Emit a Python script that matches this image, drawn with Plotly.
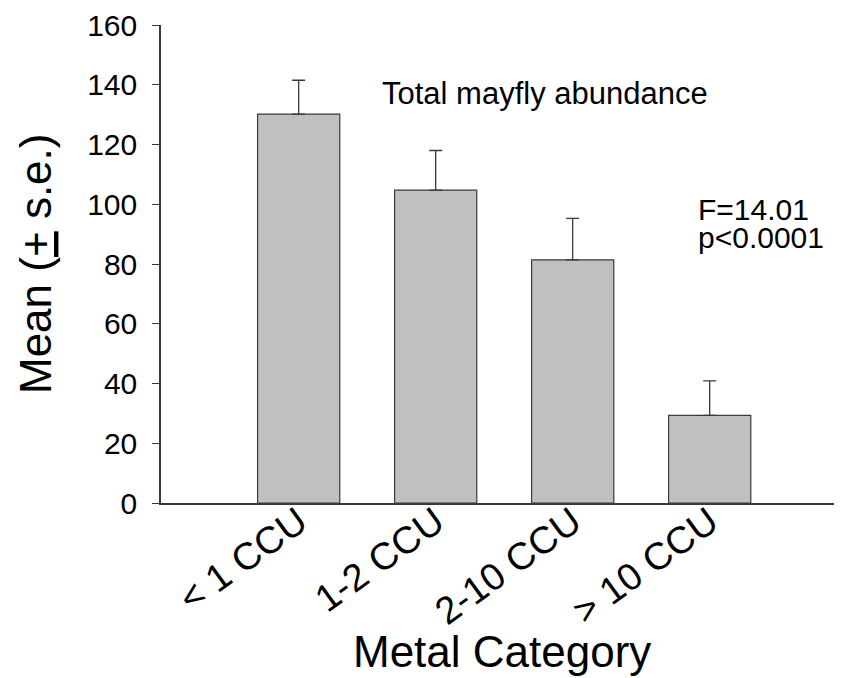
import plotly.graph_objects as go

categories = ["< 1 CCU", "1-2 CCU", "2-10 CCU", "> 10 CCU"]
means = [130.2, 104.7, 81.4, 29.3]
se = [11.3, 13.3, 13.9, 11.6]
y_ticks = [0, 20, 40, 60, 80, 100, 120, 140, 160]

FONT = "Liberation Sans, Arial, sans-serif"
AX = "#3a3a3a"

fig = go.Figure()
fig.add_trace(go.Bar(
    x=list(range(len(categories))),
    y=means,
    width=0.6,
    marker=dict(color="#c0c0c0", line=dict(color=AX, width=1.2)),
    error_y=dict(type="data", array=se, arrayminus=[0] * len(se), symmetric=False,
                 color=AX, thickness=1.3, width=6.5),
    showlegend=False,
))

# page body has an 8px margin, so the figure is 834x670 placed at (8, 8)
fig.update_layout(
    width=834, height=670,
    margin=dict(l=153, r=0, t=15, b=175),
    plot_bgcolor="white", paper_bgcolor="white",
    font=dict(family=FONT, color="black"),
    xaxis=dict(
        range=[-1.005, -1.005 + 681 / 137],
        tickmode="array", tickvals=list(range(len(categories))), ticktext=categories,
        tickangle=-36, ticks="", showline=True, linecolor=AX, linewidth=1.5,
        showgrid=False, zeroline=False, tickfont=dict(size=38, family=FONT, color="black"),
        ticklabelstandoff=-20, ticklabeloverflow="allow",
    ),
    yaxis=dict(
        range=[0, 160], tickmode="array", tickvals=y_ticks,
        ticks="outside", ticklen=7, tickwidth=1.2, tickcolor=AX,
        showline=True, linecolor=AX, linewidth=1.5, showgrid=False, zeroline=False,
        tickfont=dict(size=30, family=FONT, color="black"), ticklabelstandoff=9,
        ticklabeloverflow="allow",
    ),
    bargap=0.4,
)

fig.add_annotation(text="Mean (<u>+</u> s.e.)", xref="paper", yref="paper", x=0, y=0.5,
                   xanchor="center", yanchor="middle", xshift=-126, textangle=-90,
                   showarrow=False, font=dict(size=44, family=FONT, color="black"))
fig.add_annotation(text="Metal Category", xref="paper", yref="paper", x=0.5, y=0,
                   xanchor="center", yanchor="middle", yshift=-148,
                   showarrow=False, font=dict(size=44, family=FONT, color="black"))
fig.add_annotation(text="Total mayfly abundance", xref="paper", yref="paper", x=0, y=1,
                   xanchor="left", yanchor="middle", xshift=219, yshift=-68,
                   showarrow=False, font=dict(size=31, family=FONT, color="black"))
fig.add_annotation(text="F=14.01", xref="paper", yref="paper", x=0, y=1,
                   xanchor="left", yanchor="middle", xshift=535, yshift=-184.5,
                   showarrow=False, font=dict(size=30, family=FONT, color="black"))
fig.add_annotation(text="p<0.0001", xref="paper", yref="paper", x=0, y=1,
                   xanchor="left", yanchor="middle", xshift=535, yshift=-212,
                   showarrow=False, font=dict(size=30, family=FONT, color="black"))

fig.write_html("out.html")
